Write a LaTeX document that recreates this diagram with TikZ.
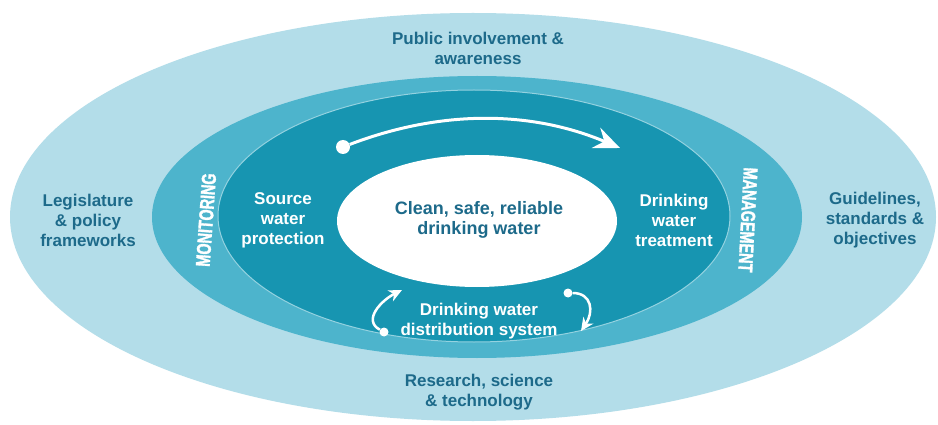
\documentclass[tikz,border=0pt]{standalone}
\usepackage{fontspec}
\setmainfont{Liberation Sans}
\newfontfamily\bandfont{Liberation Sans Bold}[FakeStretch=0.72,FakeBold=1.5]
\usetikzlibrary{arrows.meta}
\definecolor{outerblue}{HTML}{B3DDE9}
\definecolor{bandblue}{HTML}{4DB4CC}
\definecolor{ringblue}{HTML}{1795B1}
\definecolor{textblue}{HTML}{1D6A8A}

\begin{document}
\begin{tikzpicture}[x=1pt,y=-1pt,->,>={Stealth[length=13pt,width=12pt,inset=4pt]},
  out node/.style={align=center,text=textblue,font=\fontsize{17}{20}\selectfont\bfseries},
  ring node/.style={align=center,text=white,font=\fontsize{17}{20}\selectfont\bfseries},
  core node/.style={align=center,text=textblue,font=\fontsize{18}{20}\selectfont\bfseries},
  band node/.style={text=white,font=\bandfont\fontsize{20}{20}\selectfont},
  dot node/.style={circle,fill=white,inner sep=0pt,minimum size=#1},
  dot node/.default=9pt,
  flow/.style={white,line width=2.5pt}]

  \fill[white] (0,0) rectangle (938,425);
  \useasboundingbox (0,0) rectangle (938,425);

  % rings
  \fill[outerblue] (473,217) ellipse [x radius=463, y radius=204];
  \fill[bandblue] (477,217) ellipse [x radius=325, y radius=141];
  \filldraw[fill=ringblue,draw=bandblue!60!white,line width=1pt] (474,216) ellipse [x radius=256, y radius=126];
  \fill[white] (477,221) ellipse [x radius=140, y radius=66];

  \node[out node] (1) at (478,48) {Public involvement \&\\awareness};
  \node[out node] (2) at (88,220) {Legislature\\\& policy\\frameworks};
  \node[out node] (3) at (875,220) {Guidelines,\\standards \&\\objectives};
  \node[out node] (4) at (479,392) {Research, science\\\& technology};
  \node[band node,rotate=86] (5) at (206,220) {MONITORING};
  \node[band node,rotate=-93] (6) at (748,220) {MANAGEMENT};
  \node[ring node] (7) at (283,220) {Source\\water\\protection};
  \node[ring node] (8) at (674,220) {Drinking\\water\\treatment};
  \node[ring node] (9) at (479,321) {Drinking water\\distribution system};
  \node[core node] (10) at (479,220) {Clean, safe, reliable\\drinking water};

  \node[dot node=14pt] (a1) at (343,147) {};
  \coordinate (b1) at (620,148);
  \node[dot node] (a2) at (384,332) {};
  \coordinate (b2) at (402,290);
  \node[dot node] (a3) at (568,293) {};
  \coordinate (b3) at (581,331);

  \draw[flow,line width=3pt,-{Stealth[length=26pt,width=22pt,inset=9pt]}]
    (a1) .. controls (440,110) and (530,110) .. (b1);
  \draw[flow] (a2) .. controls (362,320) and (382,300) .. (b2);
  \draw[flow] (a3) .. controls (592,293) and (594,312) .. (b3);

\end{tikzpicture}
\end{document}
